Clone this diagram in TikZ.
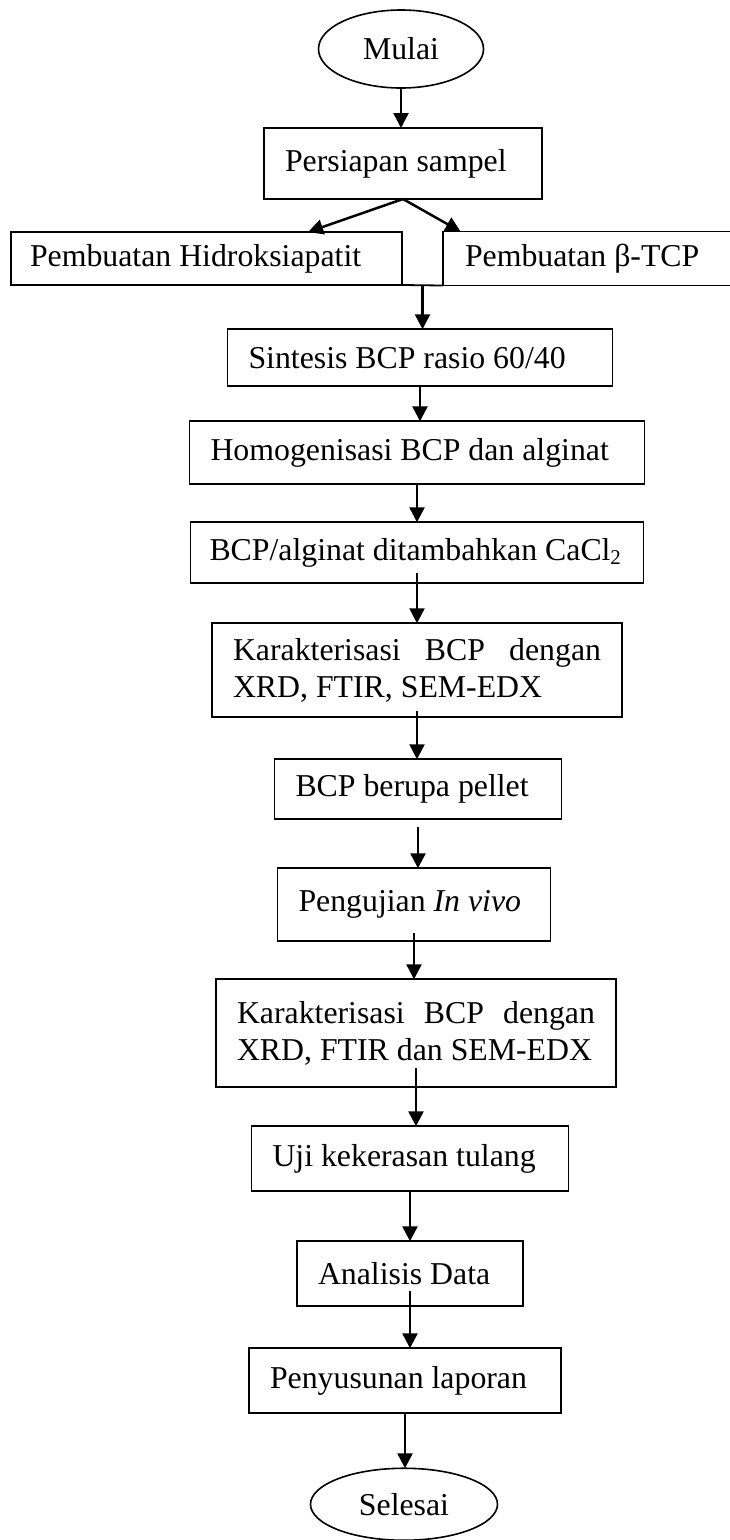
\documentclass[tikz,border=0pt]{standalone}
\usepackage{fontspec}
\setmainfont{Liberation Serif}
\usetikzlibrary{shapes.geometric,positioning,arrows.meta,calc}

\begin{document}
\begin{tikzpicture}[x=1pt, y=1pt, node distance=40pt, font=\fontsize{31.8pt}{37.5pt}\selectfont]
    \tikzstyle{terminal} = [ellipse, draw, line width=1.6pt, inner sep=0pt, outer sep=0pt, minimum width=165pt, minimum height=78pt]
    \tikzstyle{proses} = [rectangle, draw, line width=1.8pt, inner xsep=21pt, inner ysep=0pt, outer sep=0pt, align=flush left]
    \tikzstyle{arrow} = [line width=2.5pt, -{Triangle[length=15pt, width=15pt]}]

    \useasboundingbox (0,0) rectangle (729,-1540);

    \node (mulai) [terminal] at (401,-49) {Mulai};
    \node (persiapan) [proses, below=40pt of mulai, xshift=2pt, text width=236pt, minimum height=71pt] {Persiapan sampel};
    \node (hidro) [proses, below=33pt of persiapan, xshift=-196.5pt, inner xsep=19pt, text width=353pt, minimum height=53pt] {Pembuatan Hidroksiapatit};
    \node (tcp) [proses, right=41pt of hidro, inner xsep=22pt, text width=248pt, minimum height=54pt] {Pembuatan β-TCP};
    \coordinate (gabung) at ($(hidro.south east)!0.5!(tcp.south west)$);
    \node (sintesis) [proses, below=44pt of gabung, xshift=-2.5pt, text width=343pt, minimum height=57pt] {Sintesis BCP rasio 60/40};
    \node (homogen) [proses, below=35pt of sintesis, xshift=-3pt, text width=413pt, minimum height=63pt] {Homogenisasi BCP dan alginat};
    \node (cacl) [proses, below=38pt of homogen, inner xsep=19pt, text width=415pt, minimum height=61pt] {BCP/alginat ditambahkan CaCl\raisebox{-4pt}{\fontsize{21pt}{21pt}\selectfont 2}};
    \node (karak) [proses, below=40pt of cacl, text width=368pt, minimum height=94pt] {Karakterisasi\hfill BCP\hfill dengan\\XRD, FTIR, SEM-EDX};
    \node (pellet) [proses, below=42pt of karak, xshift=1pt, text width=245pt, minimum height=60pt] {BCP berupa pellet};
    \node (invivo) [proses, below=49pt of pellet, xshift=-4pt, text width=231pt, minimum height=73pt] {Pengujian \textit{In vivo}};
    \node (karakdua) [proses, below=38pt of invivo, xshift=2pt, text width=358pt, minimum height=108pt] {Karakterisasi\hfill BCP\hfill dengan\\XRD, FTIR dan SEM-EDX};
    \node (uji) [proses, below=39pt of karakdua, xshift=-6pt, text width=275pt, minimum height=65pt] {Uji kekerasan tulang};
    \node (analisis) [proses, below=50pt of uji, text width=184pt, minimum height=65pt] {Analisis Data};
    \node (laporan) [proses, below=42pt of analisis, xshift=-5pt, text width=270pt, minimum height=65pt] {Penyusunan laporan};
    \node (selesai) [terminal, below=55pt of laporan, xshift=-1pt, minimum width=187pt, minimum height=72pt] {Selesai};

    \draw [arrow] (mulai) -- (mulai |- persiapan.north);
    \draw [arrow] (persiapan.south) -- ($(hidro.north)!0.52!(hidro.north east)$);
    \draw [arrow] (persiapan.south) -- ($(tcp.north west)!0.12!(tcp.north)$);
    \draw [line width=1.8pt] (hidro.south east) -- (tcp.south west);
    \draw [arrow] (gabung) -- (gabung |- sintesis.north);
    \draw [arrow] (sintesis) -- (sintesis |- homogen.north);
    \draw [arrow] (homogen) -- (homogen |- cacl.north);
    \draw [arrow, shorten <=-10pt] (cacl) -- (cacl |- karak.north);
    \draw [arrow, shorten <=-6pt] (karak) -- (karak |- pellet.north);
    \draw [arrow, shorten <=8pt] (pellet) -- (pellet |- invivo.north);
    \draw [arrow, shorten <=-8pt] (invivo) -- (invivo |- karakdua.north);
    \draw [arrow, shorten <=-19pt] (karakdua) -- (karakdua |- uji.north);
    \draw [arrow] (uji) -- (uji |- analisis.north);
    \draw [arrow, shorten <=-15pt] (analisis) -- (analisis |- laporan.north);
    \draw [arrow] (laporan) -- (laporan |- selesai.north);
\end{tikzpicture}
\end{document}
